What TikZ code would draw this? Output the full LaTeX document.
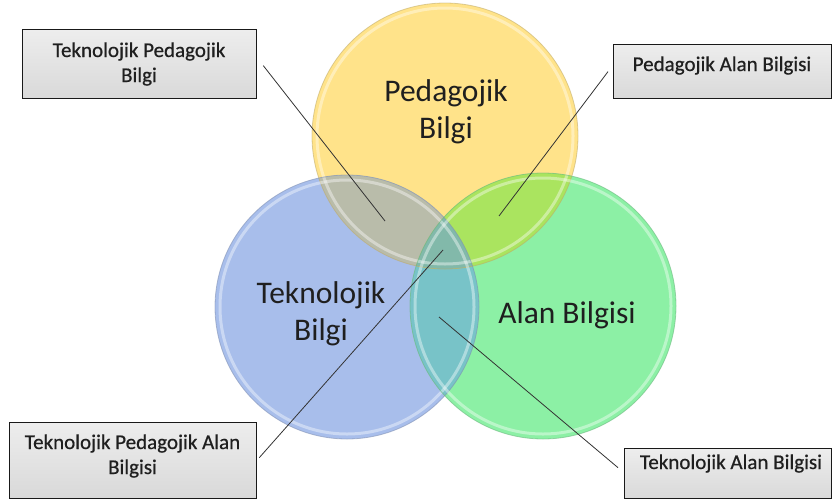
\documentclass[tikz,border=0pt]{standalone}
\usepackage{fontspec}
\setmainfont{Carlito}
\newfontfamily\heavyfont{Carlito}[FakeBold=0.6]
\newcommand{\mylines}[1]{\begin{tabular}[t]{@{}c@{}}#1\end{tabular}}
\definecolor{cY}{RGB}{255,227,138}
\definecolor{cB}{RGB}{168,190,235}
\definecolor{cG}{RGB}{140,240,165}
\definecolor{cYB}{RGB}{185,188,170}
\definecolor{cYG}{RGB}{170,228,95}
\definecolor{cBG}{RGB}{120,195,200}
\definecolor{cYBG}{RGB}{130,185,170}
\begin{document}
\begin{tikzpicture}[x=1pt,y=-1pt,
  rim/.style={draw opacity=0.55,line width=0.8pt},
  ring/.style={draw=white,draw opacity=0.4,line width=3pt},
  box/.style={draw=black!90,line width=1.3pt,top color=gray!14,bottom color=gray!30,
    inner sep=0pt,anchor=north west},
  boxtext/.style={anchor=base,inner sep=0pt,text=black!88,
    font=\heavyfont\fontsize{21pt}{25pt}\selectfont},
  bigtext/.style={anchor=base,inner sep=0pt,text=black!88,
    font=\fontsize{31.5pt}{37pt}\selectfont},
  conn/.style={draw=black!80,line width=0.8pt}]
\useasboundingbox (0,0) rectangle (832,501);
\coordinate (cy) at (445,136);
\coordinate (cb) at (347,307);
\coordinate (cg) at (543,306);
% circle fills
\fill[cY] (cy) circle[radius=133];
\fill[cB] (cb) circle[radius=132];
\fill[cG] (cg) circle[radius=133];
\begin{scope}
  \clip (cb) circle[radius=132];
  \fill[cBG] (cg) circle[radius=133];
\end{scope}
\begin{scope}
  \clip (cy) circle[radius=133];
  \fill[cYB] (cb) circle[radius=132];
  \fill[cYG] (cg) circle[radius=133];
  \clip (cb) circle[radius=132];
  \fill[cYBG] (cg) circle[radius=133];
\end{scope}
% rims and highlights
\draw[rim,draw=cY!75!black] (cy) circle[radius=133];
\draw[ring] (cy) circle[radius=128];
\draw[rim,draw=cB!75!black] (cb) circle[radius=132];
\draw[ring] (cb) circle[radius=127];
\draw[rim,draw=cG!75!black] (cg) circle[radius=133];
\draw[ring] (cg) circle[radius=128];
% circle texts
\node[bigtext] (ped) at (446,101) {\mylines{Pedagojik\\Bilgi}};
\node[bigtext] (tek) at (321,303) {\mylines{Teknolojik\\Bilgi}};
\node[bigtext] (alan) at (567,323) {Alan Bilgisi};
% boxes
\node[box,minimum width=234pt,minimum height=69pt] (tl) at (22,29) {};
\node[box,minimum width=218pt,minimum height=54pt] (tr) at (613,44) {};
\node[box,minimum width=247pt,minimum height=76pt] (bl) at (9,422) {};
\node[box,minimum width=207pt,minimum height=50pt] (br) at (624,448) {};
\node[boxtext] (tltext) at (139,57) {\mylines{Teknolojik Pedagojik\\Bilgi}};
\node[boxtext] (trtext) at (722,71) {Pedagojik Alan Bilgisi};
\node[boxtext] (bltext) at (132.5,449) {\mylines{Teknolojik Pedagojik Alan\\Bilgisi}};
\node[boxtext] (brtext) at (731,469) {Teknolojik Alan Bilgisi};
% connector ends
\coordinate (tpk) at (385,221);
\coordinate (pak) at (499,216);
\coordinate (tpak) at (443,250);
\coordinate (tak) at (439,317);
\draw[conn] ([xshift=6pt,yshift=-1.5pt]tl.east) -- (tpk);
\draw[conn] ([xshift=-5pt]tr.west) -- (pak);
\draw[conn] ([xshift=2pt,yshift=3pt]bl.east) -- (tpak);
\draw[conn] ([xshift=-6pt,yshift=6pt]br.west) -- (tak);
\end{tikzpicture}
\end{document}
